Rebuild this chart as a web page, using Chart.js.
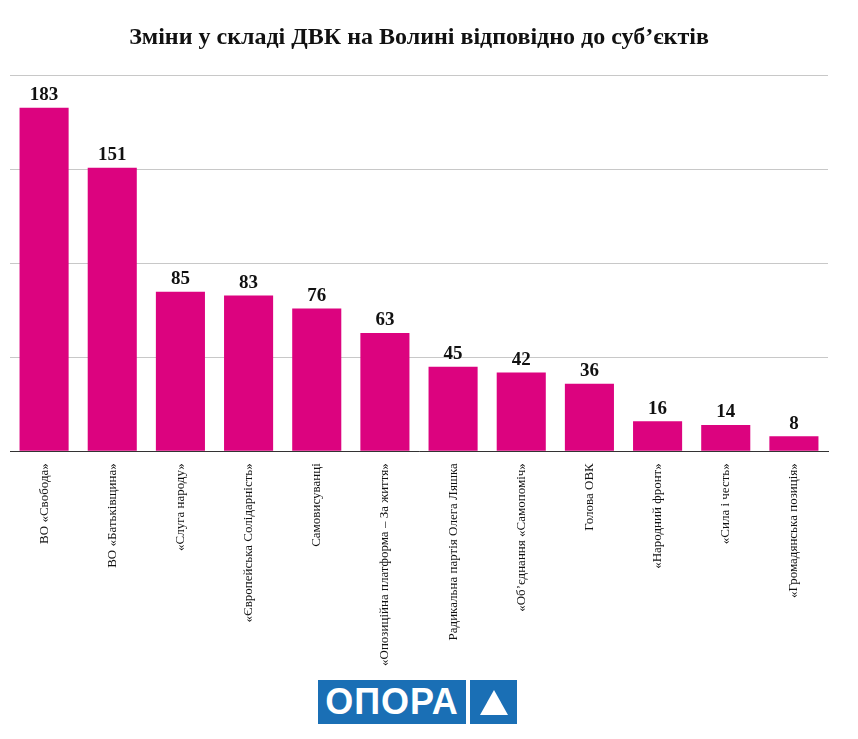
<!DOCTYPE html>
<html><head><meta charset="utf-8">
<script src="https://cdn.jsdelivr.net/npm/chart.js@4"></script>
<style>
body{margin:0;background:#fff;}
#wrap{position:absolute;left:0;top:0;width:858px;height:670px;}
#logo{position:absolute;left:318px;top:680px;width:199px;height:44px;display:flex;}
#logo .t{background:#1a6fb5;color:#fff;font:bold 36px "Liberation Sans",Arial,sans-serif;width:148px;display:flex;align-items:center;justify-content:center;letter-spacing:1px;}
#logo .g{width:4px;background:#fff;}
#logo .a{background:#1a6fb5;flex:1;display:flex;align-items:center;justify-content:center;}
</style></head><body>
<div id="wrap"><canvas id="c"></canvas></div>
<div id="logo"><div class="t">ОПОРА</div><div class="g"></div><div class="a"><svg width="30" height="28"><polygon points="15,2 29,27 1,27" fill="#fff"/></svg></div></div>
<script>
const categories=["ВО «Свобода»","ВО «Батьківщина»","«Слуга народу»","«Європейська Солідарність»","Самовисуванці","«Опозиційна платформа – За життя»","Радикальна партія Олега Ляшка","«Об’єднання «Самопоміч»","Голова ОВК","«Народний фронт»","«Сила і честь»","«Громадянська позиція»"];
const values=[183,151,85,83,76,63,45,42,36,16,14,8];
const yTicks=[0,50,100,150,200];
const labelPlugin={id:'lbl',afterDatasetsDraw(ch){const ctx=ch.ctx;ctx.save();ctx.font='bold 19px "Liberation Serif"';ctx.fillStyle='#111';ctx.textAlign='center';ctx.textBaseline='bottom';
ch.getDatasetMeta(0).data.forEach((b,i)=>ctx.fillText(values[i],b.x,b.y-3));ctx.restore();}};
new Chart(document.getElementById('c'),{type:'bar',
data:{labels:categories,datasets:[{data:values,backgroundColor:'#dc037f',barPercentage:0.72,categoryPercentage:1}]},
options:{responsive:true,maintainAspectRatio:false,animation:false,
layout:{padding:{left:10,right:30,top:0}},
plugins:{legend:{display:false},tooltip:{enabled:false},
title:{display:true,text:'Зміни у складі ДВК на Волині відповідно до суб’єктів',color:'#111',font:{family:'"Liberation Serif"',size:24,weight:'bold'},padding:{top:23,bottom:24}}},
scales:{y:{min:0,max:200,afterBuildTicks(a){a.ticks=yTicks.map(v=>({value:v}));},ticks:{display:false},border:{display:false},grid:{color:'#c8c8c8',drawTicks:false}},
x:{grid:{display:false},border:{display:true,color:'#333'},ticks:{minRotation:90,maxRotation:90,color:'#111',font:{family:'"Liberation Serif"',size:13},padding:4}}}},
plugins:[labelPlugin]});
</script></body></html>
